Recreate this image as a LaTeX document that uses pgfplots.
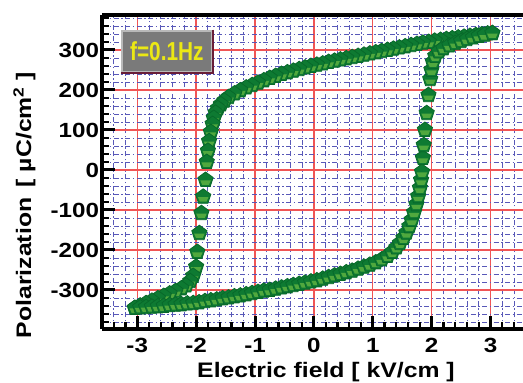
\documentclass[border=0pt]{standalone}
\usepackage{fontspec}
\setmainfont{Liberation Sans}[FakeStretch=1.18]
\newfontfamily\boxfont{Liberation Sans}[FakeStretch=0.8]
\usepackage{pgfplots}
\usepackage{pgfplotstable}
\pgfplotsset{compat=1.18}
\definecolor{pdark}{RGB}{14,122,50}
\definecolor{pedge}{RGB}{8,105,42}
\definecolor{plight}{RGB}{80,168,62}
\definecolor{gridred}{RGB}{240,85,85}
\definecolor{gridblue}{RGB}{88,88,184}
\definecolor{boxgray}{RGB}{122,122,122}
\definecolor{boxlight}{RGB}{185,185,185}
\definecolor{boxdark}{RGB}{105,30,55}
\definecolor{fyellow}{RGB}{235,232,20}
\pgfdeclareplotmark{gpent}{%
  \pgfpathmoveto{\pgfpointpolar{90}{\pgfplotmarksize}}%
  \pgfpathlineto{\pgfpointpolar{162}{\pgfplotmarksize}}%
  \pgfpathlineto{\pgfpointpolar{234}{\pgfplotmarksize}}%
  \pgfpathlineto{\pgfpointpolar{306}{\pgfplotmarksize}}%
  \pgfpathlineto{\pgfpointpolar{18}{\pgfplotmarksize}}%
  \pgfpathclose
  \pgfsetfillcolor{pdark}\pgfsetstrokecolor{pedge}%
  \pgfusepathqfillstroke
  \pgfpathmoveto{\pgfpoint{-0.66\pgfplotmarksize}{-0.05\pgfplotmarksize}}%
  \pgfpathlineto{\pgfpoint{0.66\pgfplotmarksize}{-0.05\pgfplotmarksize}}%
  \pgfpathlineto{\pgfpoint{0.42\pgfplotmarksize}{-0.6\pgfplotmarksize}}%
  \pgfpathlineto{\pgfpoint{-0.42\pgfplotmarksize}{-0.6\pgfplotmarksize}}%
  \pgfpathclose
  \pgfsetfillcolor{plight}\pgfusepathqfill
}
\pgfplotstableread{
E P
3.03 342
2.95 341
2.85 339
2.75 337
2.65 335
2.55 333
2.45 331
2.35 329
2.25 327
2.15 325
2.05 323
1.95 320
1.85 318
1.75 315
1.65 312
1.55 309
1.45 306
1.35 303
1.25 300
1.15 297
1.05 294
0.95 291
0.85 288
0.75 285
0.65 282
0.55 279
0.45 276
0.35 273
0.25 270
0.15 266
0.05 263
-0.05 260
-0.15 256
-0.25 252
-0.35 248
-0.45 244
-0.55 240
-0.65 235
-0.75 230
-0.85 224
-0.95 218
-1.05 212
-1.15 206
-1.25 199
-1.35 191
-1.45 182
-1.52 173
-1.58 164
-1.63 154
-1.67 143
-1.70 130
-1.72 115
-1.75 95
-1.78 72
-1.80 48
-1.82 20
-1.84 -25
-1.88 -67
-1.91 -108
-1.945 -158
-1.98 -205
-2.00 -242
-2.05 -265
-2.10 -278
-2.17 -289
-2.25 -296
-2.35 -303
-2.45 -309
-2.55 -315
-2.65 -321
-2.75 -327
-2.85 -333
-2.95 -339
-3.04 -345
}\upperbranch
\pgfplotstableread{
E P
-3.04 -345
-2.95 -344
-2.85 -343
-2.75 -342
-2.65 -341
-2.55 -340
-2.45 -338
-2.35 -337
-2.25 -336
-2.15 -334
-2.05 -333
-1.95 -331
-1.85 -328
-1.75 -326
-1.65 -324
-1.55 -321
-1.45 -319
-1.35 -316
-1.25 -314
-1.15 -311
-1.05 -308
-0.95 -305
-0.85 -302
-0.75 -300
-0.65 -297
-0.55 -294
-0.45 -291
-0.35 -288
-0.25 -285
-0.15 -282
-0.05 -279
0.05 -276
0.15 -272
0.25 -268
0.35 -264
0.45 -260
0.55 -256
0.65 -252
0.75 -247
0.85 -242
0.95 -237
1.05 -231
1.15 -224
1.25 -215
1.33 -205
1.40 -194
1.46 -183
1.52 -170
1.57 -157
1.62 -141
1.66 -125
1.70 -106
1.74 -86
1.77 -66
1.80 -45
1.82 -25
1.835 -5
1.85 30
1.865 62
1.885 100
1.915 142
1.945 187
1.975 227
1.995 250
2.02 270
2.06 285
2.12 296
2.20 304
2.30 311
2.40 317
2.50 322
2.60 327
2.70 331
2.80 335
2.90 338
3.03 342
}\lowerbranch
\begin{document}
\begin{tikzpicture}
\begin{axis}[
  at={(0,0)}, anchor=south west, scale only axis,
  width=420.5pt, height=314pt,
  xmin=-3.59, xmax=3.55, ymin=-397.5, ymax=387.5,
  axis x line=box, axis y line=left,
  axis line style={line width=4pt, black, -},
  every outer y axis line/.append style={-},
  xtick={-3,-2,...,3}, ytick={-300,-200,...,300},
  minor xtick={-3.4,-3.2,-2.8,-2.6,-2.4,-2.2,-1.8,-1.6,-1.4,-1.2,-0.8,-0.6,-0.4,-0.2,0.2,0.4,0.6,0.8,1.2,1.4,1.6,1.8,2.2,2.4,2.6,2.8,3.2,3.4},
  minor ytick={-380,-360,-340,-320,-280,-260,-240,-220,-180,-160,-140,-120,-80,-60,-40,-20,20,40,60,80,120,140,160,180,220,240,260,280,320,340,360,380},
  xtick pos=left, ytick pos=left,
  tick align=inside,
  major tick length=13pt, minor tick length=7pt,
  every major tick/.append style={line width=3pt, black},
  every minor tick/.append style={line width=2.2pt, black},
  grid=both,
  major grid style={gridred, line width=1.3pt},
  minor grid style={gridblue, line width=0.9pt, dash pattern=on 5pt off 2.5pt on 1.5pt off 2.5pt},
  /pgf/number format/assume math mode=true,
  ticklabel style={font=\fontsize{20.5}{21}\selectfont\bfseries},
  xticklabel style={yshift=-6pt},
  xlabel={Electric field [ kV/cm ]},
  ylabel={Polarization\enspace[ µC/cm\textsuperscript{2} ]},
  label style={font=\fontsize{21}{22}\selectfont\bfseries},
  xlabel style={at={(axis description cs:0.5315,-0.156)}, anchor=base},
  ylabel style={at={(axis description cs:-0.1855,0.395)}, anchor=center},
]
\addplot[only marks, mark=gpent, mark size=8pt, mark options={line width=0.8pt}] table[x=E,y=P] {\upperbranch};
\addplot[only marks, mark=gpent, mark size=8pt, mark options={line width=0.8pt}] table[x=E,y=P] {\lowerbranch};
\node[fill=boxgray, draw=boxlight, line width=2.5pt, minimum width=90pt, minimum height=41pt, inner sep=0pt] (fbox) at (rel axis cs:0.153,0.884) {\boxfont\fontsize{26}{26}\selectfont\bfseries\color{fyellow}f=0.1Hz};
\draw[boxdark, line width=2pt] (fbox.north east) -- (fbox.south east) -- (fbox.south west);
\end{axis}
\pgfresetboundingbox
\path[use as bounding box] (-102.5pt,-54pt) rectangle (420.5pt,329pt);
\end{tikzpicture}
\end{document}
